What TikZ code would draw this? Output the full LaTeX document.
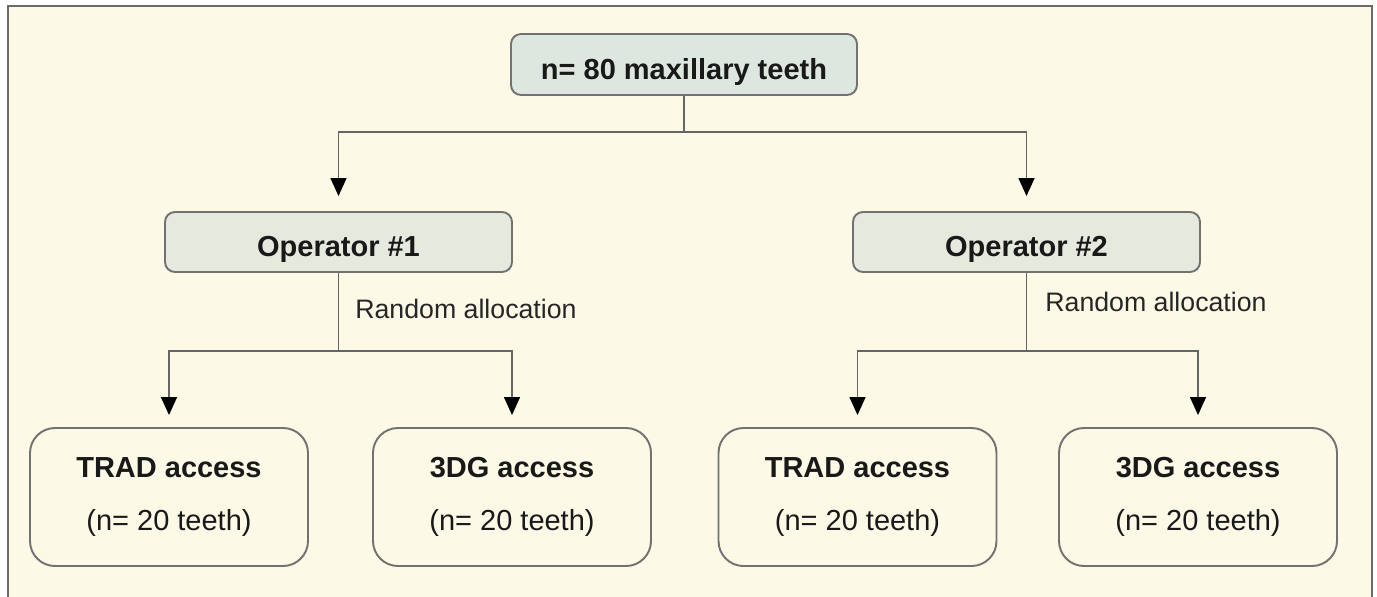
\documentclass[tikz,border=0pt]{standalone}
\usepackage{fontspec}
\setmainfont{Liberation Sans}
\usetikzlibrary{arrows.meta}
\definecolor{paper}{HTML}{FDF9E7}
\definecolor{headfill}{HTML}{DDE7E0}
\definecolor{opfill}{HTML}{E6E9DD}
\definecolor{boxline}{HTML}{727272}
\definecolor{linegray}{HTML}{666666}
\definecolor{framegray}{HTML}{6A6A66}
\begin{document}
\begin{tikzpicture}[
  box/.style={draw=boxline, line width=1.1pt, rounded corners=0.2cm, inner sep=0pt,
    text=black!90, font=\fontsize{16.5}{20}\selectfont\bfseries, text height=17pt, text depth=0pt},
  headbox/.style={box, fill=headfill, minimum width=6.92cm, minimum height=1.22cm},
  opbox/.style={box, fill=opfill, minimum width=6.94cm, minimum height=1.2cm},
  groupbox/.style={draw=boxline, line width=1.1pt, rounded corners=0.5cm, text=black!90,
    minimum width=5.56cm, minimum height=2.76cm, align=center, font=\fontsize{16.5}{30}\selectfont},
  link/.style={draw=linegray, line width=0.85pt},
  arr/.style={link, -{Triangle[width=0.32cm,length=0.36cm,color=black,fill=black]}, shorten >=#1},
  arr/.default=0.24cm,
  lbl/.style={font=\fontsize{15.2}{18}\selectfont, text=black!85, anchor=west, inner sep=0pt}
]
  % page and frame
  \fill[white] (0, 0) rectangle (27.54, -11.92);
  \useasboundingbox (0, 0) rectangle (27.54, -11.92);
  \fill[paper] (0.16, -0.12) rectangle (27.44, -12.2);
  \draw[framegray, line width=1.4pt] (0.16, -12.2) -- (0.16, -0.12) -- (27.44, -0.12) -- (27.44, -12.2);

  % boxes
  \node[headbox] (top) at (13.68, -1.29) {n= 80 maxillary teeth};
  \node[opbox] (op1) at (6.77, -4.84) {Operator \#1};
  \node[opbox] (op2) at (20.53, -4.84) {Operator \#2};
  \node[groupbox] (b1) at (3.38, -9.94) {\textbf{TRAD access}\\(n= 20 teeth)};
  \node[groupbox] (b2) at (10.24, -9.94) {\textbf{3DG access}\\(n= 20 teeth)};
  \node[groupbox] (b3) at (17.15, -9.94) {\textbf{TRAD access}\\(n= 20 teeth)};
  \node[groupbox] (b4) at (23.96, -9.94) {\textbf{3DG access}\\(n= 20 teeth)};

  % connectors
  \draw[arr=0.30cm] (top.south) -- ++(0, -0.72) -| (op1.north);
  \draw[arr=0.30cm] (top.south) -- ++(0, -0.72) -| (op2.north);
  \draw[arr] (op1.south) -- ++(0, -1.56) -| (b1.north);
  \draw[arr] (op1.south) -- ++(0, -1.56) -| (b2.north);
  \draw[arr] (op2.south) -- ++(0, -1.56) -| (b3.north);
  \draw[arr] (op2.south) -- ++(0, -1.56) -| (b4.north);

  \node[lbl] (ra1) at (7.10, -6.18) {Random allocation};
  \node[lbl] (ra2) at (20.90, -6.04) {Random allocation};
\end{tikzpicture}
\end{document}
